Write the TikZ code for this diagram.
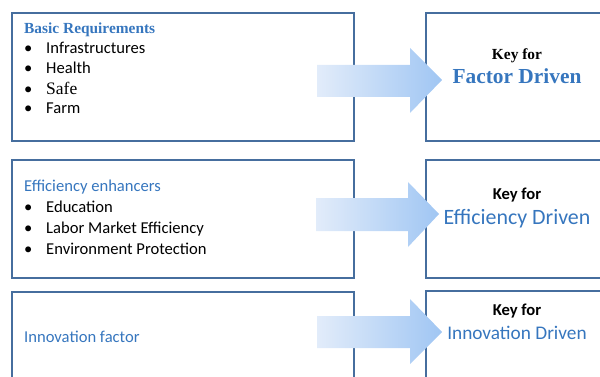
\documentclass[tikz,border=0pt]{standalone}
\usepackage{fontspec}
\setmainfont{Liberation Serif}
\newfontfamily\calib{Carlito}
\newfontfamily\timesf{Liberation Serif}
\definecolor{borderc}{RGB}{70,110,158}
\definecolor{bluetext}{RGB}{54,118,190}
\definecolor{arrowl}{RGB}{226,236,250}
\definecolor{arrowr}{RGB}{160,198,243}
\tikzset{
  box/.style={draw=borderc, line width=2pt, inner sep=0pt},
  itemtxt/.style={anchor=base west, inner sep=0pt, font=\calib\fontsize{16.6}{20}\selectfont},
  bul/.style={anchor=base west, inner sep=0pt, font=\calib\fontsize{16.6}{20}\selectfont},
  serifitem/.style={anchor=base west, inner sep=0pt, font=\timesf\fontsize{17.5}{20}\selectfont},
  headtimes/.style={anchor=base west, inner sep=0pt, text=bluetext, font=\timesf\bfseries\fontsize{15.4}{18}\selectfont},
  headcal/.style={anchor=base west, inner sep=0pt, text=bluetext, font=\calib\fontsize{16.6}{20}\selectfont},
  keytimes/.style={anchor=base, inner sep=0pt, font=\timesf\bfseries\fontsize{15.4}{18}\selectfont},
  keycal/.style={anchor=base, inner sep=0pt, font=\calib\bfseries\fontsize{16.6}{20}\selectfont},
  drivtimes/.style={anchor=base, inner sep=0pt, text=bluetext, font=\timesf\bfseries\fontsize{21.4}{24}\selectfont},
  drivcal/.style={anchor=base, inner sep=0pt, text=bluetext, font=\calib\fontsize{21.9}{24}\selectfont},
  bigarrow/.style={left color=arrowl, right color=arrowr, draw=none}
}
\begin{document}
\begin{tikzpicture}[x=1pt,y=-1pt]
\useasboundingbox (0,0) rectangle (600,377);
\clip (0,0) rectangle (600,377);
% boxes
\node[box, minimum width=342pt, minimum height=128pt, anchor=north west] (b1) at (11,12) {};
\node[box, minimum width=190pt, minimum height=128pt, anchor=north west] (k1) at (425,12) {};
\node[box, minimum width=342pt, minimum height=118pt, anchor=north west] (b2) at (11,159) {};
\node[box, minimum width=190pt, minimum height=118pt, anchor=north west] (k2) at (425,159) {};
\node[box, minimum width=342pt, minimum height=110pt, anchor=north west] (b3) at (11,291) {};
\node[box, minimum width=190pt, minimum height=110pt, anchor=north west] (k3) at (425,290) {};
% box 1 text
\node[headtimes] (h1) at (24,33.3) {Basic Requirements};
\node[bul] (u11) at (24,53.3) {•};
\node[itemtxt] (t11) at (46,53.3) {Infrastructures};
\node[bul] (u12) at (24,74) {•};
\node[itemtxt] (t12) at (46,74) {Health};
\node[bul] (u13) at (24,94.3) {•};
\node[serifitem] (t13) at (46,94.3) {{\timesf\rmfamily Safe}};
\node[bul] (u14) at (24,113.3) {•};
\node[itemtxt] (t14) at (46,113.3) {Farm};
% box 2 text
\node[headcal] (h2) at (24,191.7) {Efficiency enhancers};
\node[bul] (u21) at (24,212.7) {•};
\node[itemtxt] (t21) at (46,212.7) {Education};
\node[bul] (u22) at (24,233.3) {•};
\node[itemtxt] (t22) at (46,233.3) {Labor Market Efficiency};
\node[bul] (u23) at (24,254) {•};
\node[itemtxt] (t23) at (46,254) {Environment Protection};
% box 3 text
\node[headcal] (h3) at (24,342.5) {Innovation factor};
% key boxes text
\node[keytimes] (kf1) at (517,60) {Key for};
\node[drivtimes] (d1) at (517,83.3) {Factor Driven};
\node[keycal] (kf2) at (517,199.3) {Key for};
\node[drivcal] (d2) at (517,224) {Efficiency Driven};
\node[keycal] (kf3) at (517,315) {Key for};
\node[drivcal, font=\calib\fontsize{19.3}{22}\selectfont] (d3) at (517,339.3) {Innovation Driven};
% arrows
\shade[bigarrow] (317,65) -- (410,65) -- (410,48) -- (442,80) -- (410,113) -- (410,97) -- (317,97) -- cycle;
\shade[bigarrow] (316,198) -- (408,198) -- (408,182) -- (439,214) -- (408,247) -- (408,231) -- (316,231) -- cycle;
\shade[bigarrow] (317,316) -- (410,316) -- (410,299) -- (442,332) -- (410,364) -- (410,348) -- (317,348) -- cycle;
\end{tikzpicture}
\end{document}
